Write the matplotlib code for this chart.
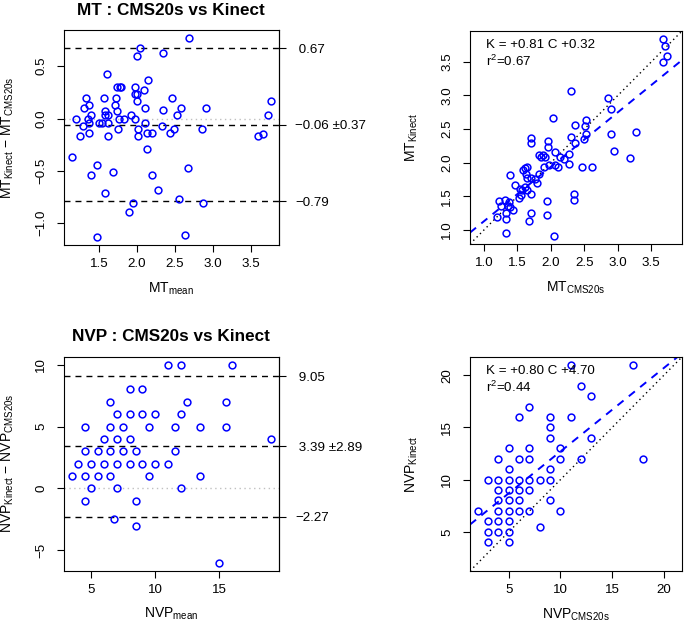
import matplotlib
matplotlib.use("Agg")
import matplotlib.pyplot as plt
import numpy as np

plt.rcParams['font.family'] = ['Liberation Sans', 'DejaVu Sans']
plt.rcParams['mathtext.fontset'] = 'custom'
plt.rcParams['mathtext.rm'] = 'Liberation Sans'
plt.rcParams['mathtext.it'] = 'Liberation Sans:italic'
plt.rcParams['mathtext.bf'] = 'Liberation Sans:bold'

# MT values (CMS20s vs Kinect)
mt_cms = [2.30, 1.70, 1.70, 2.03, 1.39, 1.96, 1.59, 1.62, 1.64, 1.82,
          1.96, 1.23, 1.47, 1.63, 1.86, 1.89, 2.36, 1.92, 1.31, 1.64,
          1.26, 2.06, 2.30, 2.53, 2.86, 1.54, 1.70, 1.38, 1.57, 1.61,
          2.51, 1.90, 1.20, 1.36, 1.76, 1.83, 1.97, 1.39, 1.52, 1.56,
          1.64, 2.13, 1.33, 2.36, 2.06, 1.80, 2.53, 2.90, 1.33, 1.44,
          1.70, 2.10, 2.20, 2.27, 2.50, 2.27, 1.33, 1.70, 1.67, 1.94,
          2.47, 2.90, 1.94, 2.61, 2.35, 2.34, 2.94, 3.27, 2.04, 3.18,
          3.67, 3.73, 3.70, 3.67]
mt_kinect = [3.07, 2.37, 2.30, 2.66, 1.82, 2.33, 1.89, 1.92, 1.94, 2.12,
             2.23, 1.43, 1.67, 1.83, 2.09, 2.12, 2.56, 2.09, 1.44, 1.77,
             1.36, 2.16, 2.38, 2.63, 2.96, 1.61, 1.77, 1.41, 1.60, 1.64,
             2.54, 1.93, 1.20, 1.36, 1.76, 1.83, 1.97, 1.35, 1.48, 1.52,
             1.60, 2.09, 1.26, 2.29, 1.96, 1.70, 2.43, 2.80, 1.16, 1.30,
             1.53, 1.93, 2.06, 2.13, 2.36, 1.98, 0.96, 1.26, 1.13, 1.43,
             1.93, 2.43, 1.23, 1.93, 1.54, 1.45, 2.17, 2.46, 0.91, 2.07,
             3.50, 3.58, 3.73, 3.84]
mt_bias = [-0.06, 0.37, 0.67, -0.79]   # mean diff, sd, upper, lower
mt_fit = [0.81, 0.32, 0.67]             # slope, intercept, r2

# NVP values (CMS20s vs Kinect)
nvp_cms = [11, 17, 12, 13, 7, 6, 9, 11, 9, 9, 13, 5, 7, 10, 4, 6, 7, 10, 12, 18,
           5, 9, 3, 4, 5, 6, 7, 8, 9, 4, 5, 6, 7, 4, 5, 6, 9, 2, 4, 5,
           6, 7, 10, 8, 3, 4, 5, 3, 4, 5, 3, 5]
nvp_kinect = [21, 21, 19, 18, 17, 16, 16, 16, 15, 14, 14, 13, 13, 13, 12, 12, 12, 12, 12, 12,
              11, 11, 10, 10, 10, 10, 10, 10, 10, 9, 9, 9, 9, 8, 8, 8, 8, 7, 7, 7,
              7, 7, 7, 5.5, 6, 6, 6, 5, 5, 5, 4, 4]
nvp_bias = [3.39, 2.89, 9.05, -2.27]
nvp_fit = [0.80, 4.70, 0.44]

FS = 9.6
LFS = 10
BLUE = '#0000ff'


def rlim(v):
    lo, hi = np.min(v), np.max(v)
    r = hi - lo
    return lo - 0.04 * r, hi + 0.04 * r


def num(s):
    return s.replace('-', '\u2212')


def sub(name, idx):
    return '$\\mathregular{%s_{%s}}$' % (name, idx)


def style_axes(ax, xt, yt, fmt):
    ax.set_xticks(xt, [num(fmt.format(t)) for t in xt])
    ax.set_yticks(yt, [num(fmt.format(t)) for t in yt], rotation=90, va='center')
    ax.tick_params(direction='out', length=5.2, width=0.8, labelsize=FS, colors='black')
    ax.tick_params(axis='x', pad=4.5)
    ax.tick_params(axis='y', pad=7)
    for s in ax.spines.values():
        s.set_linewidth(0.8)
        s.set_color('black')


def bland_altman(ax, cms, kin, bias, name, xt, yt, fmt):
    cms = np.array(cms, dtype=float)
    kin = np.array(kin, dtype=float)
    m = (cms + kin) / 2
    d = kin - cms
    ax.axhline(0, color='#c0c0c0', lw=1, ls=(0, (1, 2.5)))
    for v in [bias[2], bias[0], bias[3]]:
        ax.axhline(v, color='black', lw=1.0, ls=(0, (4.3, 3.6)))
    ax.plot(m, d, 'o', mfc='none', mec=BLUE, ms=4.9, mew=1.1)
    ax.set_xlim(rlim(m))
    ax.set_ylim(rlim(d))
    style_axes(ax, xt, yt, fmt)
    ax.set_title(name + ' : CMS20s vs Kinect', fontweight='bold', fontsize=12.3, pad=11)
    ax.set_xlabel(sub(name, 'mean'), fontsize=LFS)
    ax.set_ylabel(sub(name, 'Kinect') + ' \u2212 ' + sub(name, 'CMS20s'), fontsize=LFS)
    ax.xaxis.set_label_coords(0.5, -0.165)
    ax.yaxis.set_label_coords(-0.225, 0.5)
    labels = [num('{: .2f}'.format(bias[2])),
              num('{: .2f} \u00b1{:.2f}'.format(bias[0], bias[1])),
              num('{: .2f}'.format(bias[3]))]
    sec = ax.secondary_yaxis('right')
    sec.set_yticks([bias[2], bias[0], bias[3]], labels)
    sec.tick_params(direction='out', length=5.2, width=0.8, labelsize=FS, pad=6.5)
    sec.spines['right'].set_linewidth(0.8)


def regression(ax, cms, kin, fit, name, ticks, fmt):
    cms = np.array(cms, dtype=float)
    kin = np.array(kin, dtype=float)
    lim = rlim(np.concatenate([cms, kin]))
    ax.axline((0, 0), slope=1, color='black', lw=1.0, ls=(0, (1, 2.4)))
    ax.axline((0, fit[1]), slope=fit[0], color=BLUE, lw=1.4, ls=(0, (4, 3.5)))
    ax.plot(cms, kin, 'o', mfc='none', mec=BLUE, ms=4.9, mew=1.1)
    ax.set_xlim(lim)
    ax.set_ylim(lim)
    style_axes(ax, ticks, ticks, fmt)
    ax.text(0.075, 0.933, 'K = {:+.2f} C {:+.2f}'.format(fit[0], fit[1]),
            transform=ax.transAxes, va='center', fontsize=FS)
    ax.text(0.075, 0.858, r'r$^{2}$=' + '{:.2f}'.format(fit[2]),
            transform=ax.transAxes, va='center', fontsize=FS)
    ax.set_xlabel(sub(name, 'CMS20s'), fontsize=LFS)
    ax.set_ylabel(sub(name, 'Kinect'), fontsize=LFS)
    ax.xaxis.set_label_coords(0.5, -0.165)
    ax.yaxis.set_label_coords(-0.235, 0.5)


fig = plt.figure(figsize=(6.85, 6.22), dpi=100)
ax_tl = fig.add_axes([0.0934, 0.6066, 0.3134, 0.3452])
ax_tr = fig.add_axes([0.6861, 0.6077, 0.3095, 0.3424])
ax_bl = fig.add_axes([0.0934, 0.0825, 0.3134, 0.3441])
ax_br = fig.add_axes([0.6861, 0.0820, 0.3095, 0.3441])

bland_altman(ax_tl, mt_cms, mt_kinect, mt_bias, 'MT',
             [1.5, 2.0, 2.5, 3.0, 3.5], [-1.0, -0.5, 0.0, 0.5], '{:.1f}')
regression(ax_tr, mt_cms, mt_kinect, mt_fit, 'MT',
           [1.0, 1.5, 2.0, 2.5, 3.0, 3.5], '{:.1f}')
bland_altman(ax_bl, nvp_cms, nvp_kinect, nvp_bias, 'NVP',
             [5, 10, 15], [-5, 0, 5, 10], '{:d}')
regression(ax_br, nvp_cms, nvp_kinect, nvp_fit, 'NVP',
           [5, 10, 15, 20], '{:d}')

fig.savefig('out.png', dpi=100)
